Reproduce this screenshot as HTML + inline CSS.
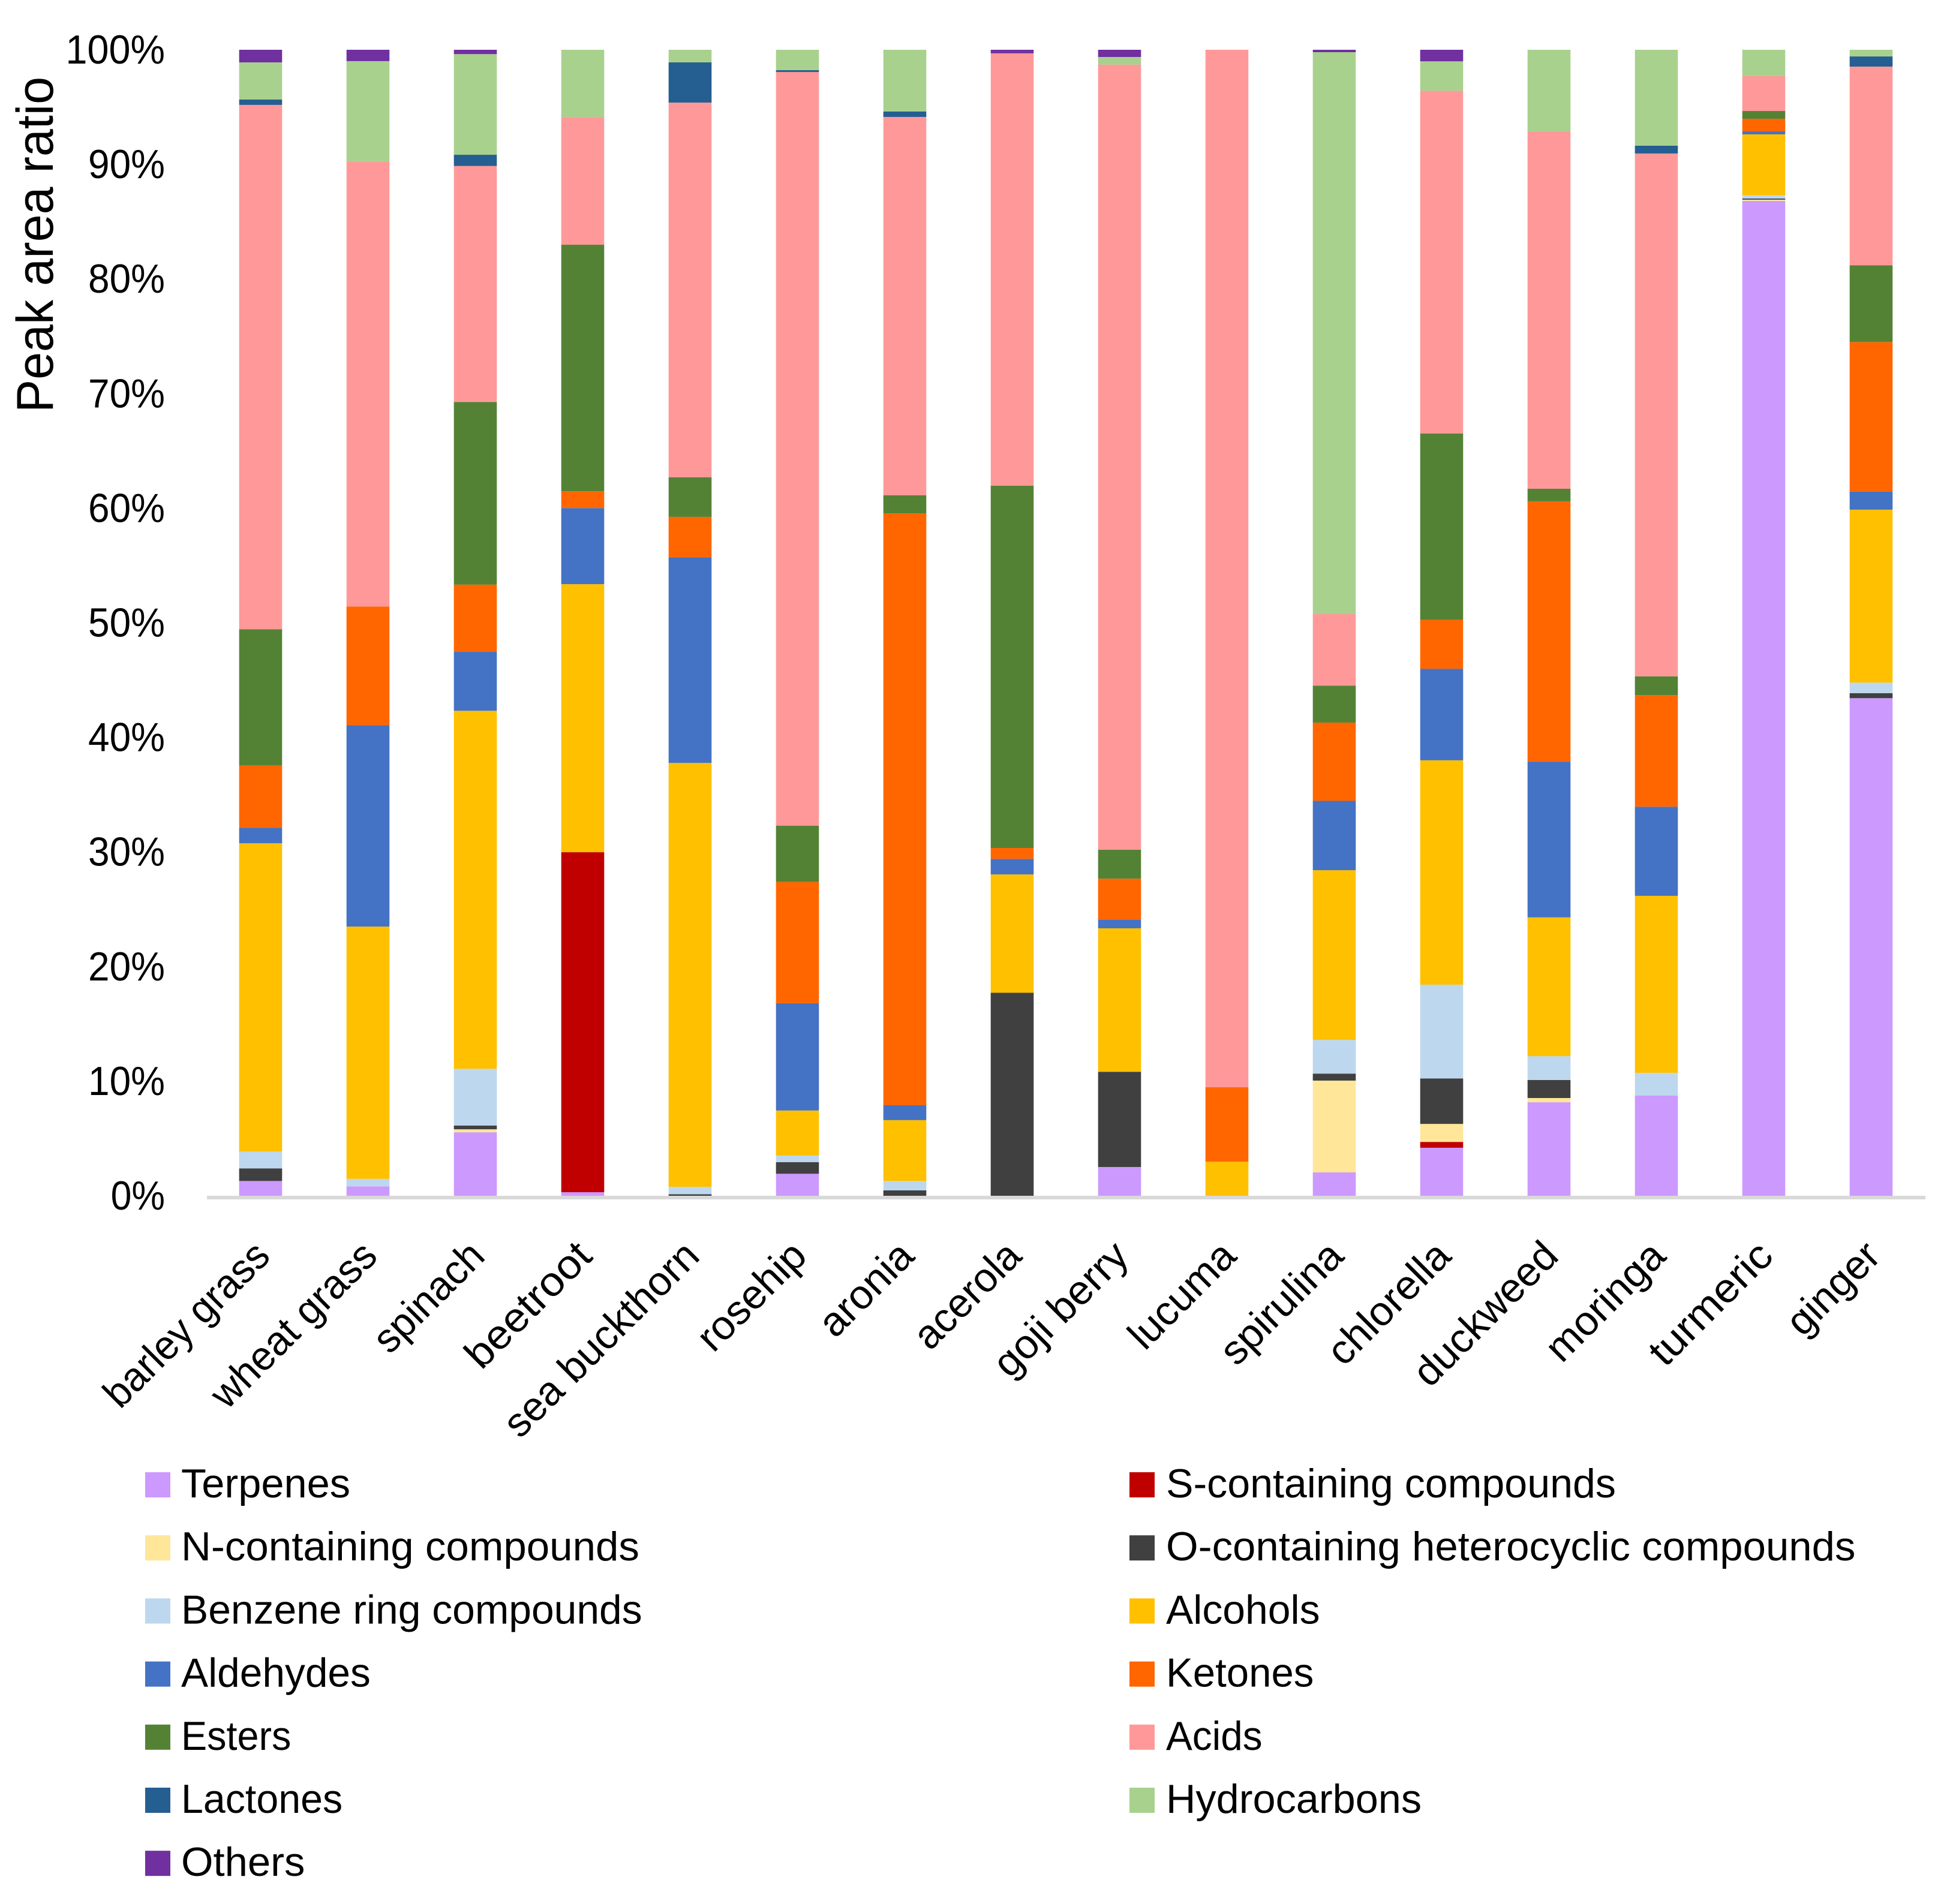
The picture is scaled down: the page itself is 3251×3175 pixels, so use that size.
<!DOCTYPE html>
<html lang="en">
<head>
<meta charset="utf-8">
<title>Peak area ratio by sample</title>
<style>
html,body{margin:0;padding:0;background:#fff;}
svg{display:block;}
text{font-family:"Liberation Sans",sans-serif;fill:#000;}
</style>
</head>
<body>
<svg id="chart" xmlns="http://www.w3.org/2000/svg" width="3251" height="3175" viewBox="0 0 3251 3175">
  <rect x="0" y="0" width="3251" height="3175" fill="#ffffff"/>
  <g id="bars"></g>
  <rect x="345" y="1994" width="2865" height="6" fill="#d9d9d9"/>
  <g id="yticks"></g>
  <g id="xticks"></g>
  <g id="legend"></g>
  <text transform="translate(88,688) rotate(-90)" font-size="86" textLength="560" lengthAdjust="spacingAndGlyphs">Peak area ratio</text>
</svg>
<script>
const categories = ["barley grass","wheat grass","spinach","beetroot","sea buckthorn","rosehip","aronia","acerola","goji berry","lucuma","spirulina","chlorella","duckweed","moringa","turmeric","ginger"];
const seriesNames = ["Terpenes","S-containing compounds","N-containing compounds","O-containing heterocyclic compounds","Benzene ring compounds","Alcohols","Aldehydes","Ketones","Esters","Acids","Lactones","Hydrocarbons","Others"];
const seriesColors = ["#CC99FF","#C00000","#FFE699","#404040","#BDD7EE","#FFC000","#4472C4","#FF6600","#548235","#FF9999","#255E91","#A9D18E","#7030A0"];
const yTickLabels = ["0%","10%","20%","30%","40%","50%","60%","70%","80%","90%","100%"];
const terpenes = [1.29,0.82,5.54,0.31,0,1.92,0,0,2.51,0,2.04,4.19,8.16,8.74,86.81,43.42];
const sContaining = [0,0,0,29.67,0,0,0,0,0,0,0,0.51,0,0,0,0];
const nContaining = [0,0,0.26,0,0,0,0,0,0,0,8.01,1.57,0.37,0,0.11,0];
const oContaining = [1.10,0,0.33,0,0.13,1.01,0.47,17.72,8.31,0,0.61,3.97,1.57,0,0.10,0.44];
const benzeneRing = [1.47,0.66,4.95,0,0.65,0.58,0.82,0,0,0,2.94,8.18,2.08,1.99,0.28,0.92];
const alcohols = [26.90,22.01,31.24,23.39,36.99,3.93,5.31,10.32,12.52,2.97,14.81,19.58,12.11,15.44,5.32,15.09];
const aldehydes = [1.35,17.58,5.14,6.64,17.95,9.37,1.30,1.36,0.77,0,6.05,7.99,13.59,7.78,0.26,1.58];
const ketones = [5.44,10.35,5.87,1.47,3.52,10.57,51.64,0.95,3.56,6.50,6.83,4.26,22.72,9.73,1.10,13.05];
const esters = [11.89,0,15.94,21.51,3.45,4.92,1.58,31.61,2.53,0,3.23,16.26,1.10,1.65,0.68,6.70];
const acids = [45.75,38.84,20.59,11.13,32.70,65.76,33.02,37.73,68.51,90.53,6.24,29.91,31.18,45.62,3.04,17.33];
const lactones = [0.47,0,0.98,0,3.51,0.16,0.47,0,0,0,0,0,0,0.68,0,0.89];
const hydrocarbons = [3.24,8.75,8.78,5.88,1.10,1.78,5.39,0,0.66,0,49.03,2.57,7.12,8.37,2.30,0.58];
const others = [1.10,0.99,0.38,0,0,0,0,0.31,0.63,0,0.21,1.01,0,0,0,0];
const seriesValues = [terpenes,sContaining,nContaining,oContaining,benzeneRing,alcohols,aldehydes,ketones,esters,acids,lactones,hydrocarbons,others];

const NS = "http://www.w3.org/2000/svg";
const plotLeft = 345, plotRight = 3209, plotTop = 83, plotBottom = 1994;
const step = (plotRight - plotLeft) / categories.length;
const barWidth = step / 2.5;
function xCenter(i){ return plotLeft + step * (i + 0.5); }
function yScale(p){ return plotBottom - (plotBottom - plotTop) * p / 100; }

// Advance widths used to fit the Liberation glyphs to the reference's narrower text.
const adv = {a:.479,b:.525,c:.423,d:.525,e:.498,f:.305,g:.471,h:.525,i:.229,j:.239,k:.455,l:.229,m:.799,n:.525,o:.527,p:.525,q:.525,r:.349,s:.391,t:.335,u:.525,v:.452,w:.715,x:.433,y:.453,z:.395," ":.226,A:.579,B:.544,E:.488,H:.623,K:.520,L:.420,N:.646,O:.662,P:.517,R:.543,S:.459,T:.487,"-":.306,"%":.715,"0":.507,"1":.507,"2":.507,"3":.507,"4":.507,"5":.507,"6":.507,"7":.507,"8":.507,"9":.507};
function fitWidth(s, em){ let w = 0; for (const c of s) w += adv[c] || .5; return w * em; }

function el(tag, parent){ const e = document.createElementNS(NS, tag); parent.appendChild(e); return e; }

const barsG = document.getElementById("bars");
categories.forEach(function(cat, i){
  const total = seriesValues.reduce(function(a, s){ return a + s[i]; }, 0);
  let cum = 0;
  const group = el("g", barsG);
  
  
  seriesValues.forEach(function(vals, s){
    const v = vals[i];
    if (v <= 0) return;
    const y0 = yScale(cum / total * 100);
    cum += v;
    const y1 = yScale(cum / total * 100);
    const r = el("rect", group);
    
    
    r.setAttribute("x", xCenter(i) - barWidth / 2);
    r.setAttribute("y", y1);
    r.setAttribute("width", barWidth);
    r.setAttribute("height", y0 - y1);
    r.setAttribute("fill", seriesColors[s]);
  });
});

const yG = document.getElementById("yticks");
yTickLabels.forEach(function(label, i){
  const t = el("text", yG);
  
  
  t.setAttribute("x", 275);
  t.setAttribute("y", yScale(i * 10) + 23);
  t.setAttribute("text-anchor", "end");
  t.setAttribute("font-size", 68);
  t.setAttribute("textLength", fitWidth(label, 74));
  t.setAttribute("lengthAdjust", "spacingAndGlyphs");
  t.textContent = label;
});

const xG = document.getElementById("xticks");
categories.forEach(function(cat, i){
  const t = el("text", xG);
  
  
  t.setAttribute("transform", "translate(" + (xCenter(i) + 19) + ",2098) rotate(-45)");
  t.setAttribute("text-anchor", "end");
  t.setAttribute("font-size", 68);
  t.setAttribute("textLength", fitWidth(cat, 74));
  t.setAttribute("lengthAdjust", "spacingAndGlyphs");
  t.textContent = cat;
});

const legendG = document.getElementById("legend");
seriesNames.forEach(function(name, i){
  const col = i % 2, row = Math.floor(i / 2);
  const top = 2455 + row * 105.2;
  const g = el("g", legendG);
  
  
  const r = el("rect", g);
  
  
  r.setAttribute("x", col ? 1883 : 242);
  r.setAttribute("y", top);
  r.setAttribute("width", 42);
  r.setAttribute("height", 42);
  r.setAttribute("fill", seriesColors[i]);
  const t = el("text", g);
  
  
  t.setAttribute("x", col ? 1944 : 302);
  t.setAttribute("y", top + 42);
  t.setAttribute("font-size", 68);
  t.setAttribute("textLength", fitWidth(name, 74.8));
  t.setAttribute("lengthAdjust", "spacingAndGlyphs");
  t.textContent = name;
});
</script>
</body>
</html>
